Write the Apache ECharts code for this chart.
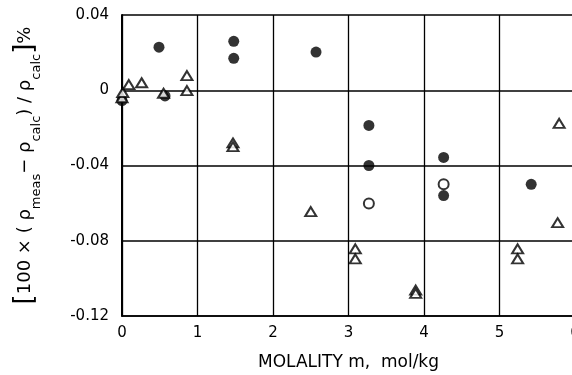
<!DOCTYPE html>
<html>
<head>
<meta charset="utf-8">
<script src="https://cdn.jsdelivr.net/npm/echarts@6/dist/echarts.min.js"></script>
<style>html,body{margin:0;padding:0;background:#fff}#c{width:572px;height:375px}</style>
</head>
<body>
<div id="c"></div>
<script>
// Filled circles
const filledX = [0.49, 1.48, 1.48, 2.57, 3.27, 3.27, 4.26, 4.26, 5.42, 0.00, 0.57];
const filledY = [0.0229, 0.0260, 0.0170, 0.0203, -0.0187, -0.0400, -0.0357, -0.0560, -0.0500, -0.0055, -0.0030];
// Open circles
const openX = [3.27, 4.26];
const openY = [-0.0602, -0.0500];
// Open triangles
const triX = [0.00, 0.01, 0.09, 0.26, 0.55, 0.86, 0.86, 1.47, 1.47, 2.50, 3.09, 3.09, 3.89, 3.89, 5.24, 5.24, 5.79, 5.77];
const triY = [-0.0040, -0.0012, 0.0030, 0.0040, -0.0016, 0.0078, -0.0002, -0.0280, -0.0300, -0.0645, -0.0843, -0.0896, -0.1062, -0.1080, -0.0843, -0.0896, -0.0176, -0.0704];
// Ticks
const xTicks = [0, 1, 2, 3, 4, 5, 6];
const yTickLabels = {'0.04': '0.04', '0': '0', '-0.04': '-0.04', '-0.08': '-0.08', '-0.12': '-0.12'};

const pairs = (xs, ys) => xs.map((x, i) => [x, ys[i]]);
const font = '"DejaVu Sans", "Liberation Sans", sans-serif';

const chart = echarts.init(document.getElementById('c'), null, {renderer: 'canvas'});
chart.setOption({
  animation: false,
  backgroundColor: '#fff',
  grid: {left: 122, top: 15, width: 453, height: 301, containLabel: false, outerBoundsMode: 'none'},
  xAxis: {
    type: 'value', min: 0, max: 6, interval: 1,
    axisLine: {show: true, onZero: false, lineStyle: {color: '#000', width: 1.6}},
    axisTick: {show: false},
    splitLine: {show: true, lineStyle: {color: '#000', width: 1.3}},
    axisLabel: {color: '#000', fontFamily: font, fontSize: 15, margin: 10,
      formatter: v => xTicks.includes(v) ? String(v) : ''},
    name: 'MOLALITY m,  mol/kg', nameLocation: 'middle', nameGap: 38,
    nameTextStyle: {color: '#000', fontFamily: font, fontSize: 17}
  },
  yAxis: {
    type: 'value', min: -0.12, max: 0.04, interval: 0.04,
    axisLine: {show: true, onZero: false, lineStyle: {color: '#000', width: 2}},
    axisTick: {show: false},
    splitLine: {show: true, lineStyle: {color: '#000', width: 1.5}},
    axisLabel: {color: '#000', fontFamily: font, fontSize: 15, margin: 13,
      formatter: v => { const k = String(Math.round(v * 100) / 100); return yTickLabels[k] !== undefined ? yTickLabels[k] : k; }},
    name: '{b|[}{m|100 × ( ρ}{s|meas}{m|− ρ}{s|calc}{m|) / ρ}{s|calc}{b|]}{m|%}',
    nameLocation: 'middle', nameGap: 79, nameRotate: 90,
    nameTextStyle: {
      color: '#000', fontFamily: font,
      rich: {
        b: {fontSize: 26, lineHeight: 36, verticalAlign: 'middle', fontFamily: font, color: '#000'},
        m: {fontSize: 18, lineHeight: 36, verticalAlign: 'middle', fontFamily: font, color: '#000'},
        s: {fontSize: 13, lineHeight: 13, verticalAlign: 'bottom', fontFamily: font, color: '#000'}
      }
    }
  },
  series: [
    {type: 'scatter', data: pairs(filledX, filledY), symbol: 'circle', symbolSize: 11,
      itemStyle: {color: '#000'}, z: 3},
    {type: 'scatter', data: pairs(openX, openY), symbol: 'circle', symbolSize: 10,
      itemStyle: {color: '#fff', borderColor: '#000', borderWidth: 2}, z: 4},
    {type: 'scatter', data: pairs(triX, triY), symbol: 'triangle', symbolSize: [11, 9],
      itemStyle: {color: '#fff', borderColor: '#000', borderWidth: 2}, z: 5}
  ]
});
</script>
</body>
</html>
